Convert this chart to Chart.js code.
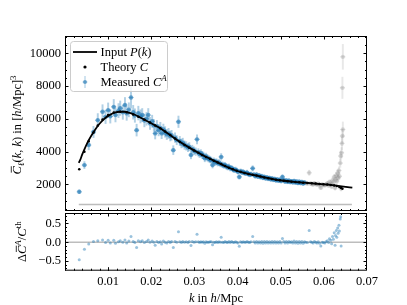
<!DOCTYPE html>
<html>
<head>
<meta charset="utf-8">
<script src="https://cdn.jsdelivr.net/npm/chart.js@4.4.1/dist/chart.umd.min.js"></script>
<style>
html, body { margin: 0; padding: 0; background: #fff; }
#wrap { position: relative; width: 407px; height: 305px; }
#topChart { position: absolute; left: 0; top: 0; }
#botChart { position: absolute; left: 0; top: 212px; }
</style>
</head>
<body>
<div id="wrap">
  <canvas id="topChart" width="407" height="212"></canvas>
  <canvas id="botChart" width="407" height="93"></canvas>
</div>
<script>
// ---- data ----
// input power spectrum P(k) (black line)
const pkK = [0.0032, 0.0035, 0.0040, 0.0046, 0.0055, 0.0069, 0.0080, 0.0092, 0.0104, 0.0115,
  0.0127, 0.0139, 0.0150, 0.0162, 0.0173, 0.0184, 0.0195, 0.0219, 0.0242, 0.0266,
  0.0289, 0.0312, 0.0330, 0.0350, 0.0372, 0.0393, 0.0416, 0.0439, 0.0462, 0.0485,
  0.0508, 0.0531, 0.0555, 0.0580, 0.0620, 0.0666];
const pkVal = [3320, 3480, 3830, 4200, 4700, 5310, 5700, 6020, 6240, 6380,
  6430, 6430, 6360, 6250, 6100, 5950, 5800, 5450, 5040, 4600,
  4230, 3890, 3640, 3390, 3110, 2880, 2700, 2565, 2435, 2310,
  2225, 2160, 2110, 2050, 1960, 1800];

// theory C (black dots)
const thK = [0.0033, 0.0045, 0.0055, 0.0066, 0.0076, 0.0087, 0.0100, 0.0113, 0.0128, 0.0143,
  0.0158, 0.0170, 0.0184, 0.0197, 0.0209, 0.0221, 0.0232, 0.0244, 0.0255, 0.0266,
  0.0277, 0.0288, 0.0299, 0.0309, 0.0318, 0.0327, 0.0336, 0.0345, 0.0354, 0.0362,
  0.0371, 0.0380, 0.0389, 0.0398, 0.0407, 0.0416, 0.0425, 0.0435, 0.0444, 0.0453,
  0.0462, 0.0471, 0.0480, 0.0489, 0.0498, 0.0507, 0.0516, 0.0525, 0.0534, 0.0543,
  0.0552, 0.0562, 0.0572, 0.0581, 0.0590, 0.0599, 0.0608, 0.0616, 0.0624, 0.0630,
  0.0636, 0.0640, 0.0643];
const thC = [2930, 3990, 4640, 5170, 5600, 5960, 6230, 6380, 6430, 6400,
  6270, 6130, 5950, 5780, 5600, 5420, 5220, 5010, 4800, 4600,
  4400, 4240, 4070, 3930, 3800, 3680, 3560, 3440, 3340, 3250,
  3130, 3020, 2920, 2840, 2770, 2700, 2640, 2590, 2540, 2480,
  2430, 2380, 2330, 2290, 2250, 2220, 2200, 2170, 2150, 2130,
  2110, 2090, 2070, 2050, 2030, 2010, 1990, 1970, 1940, 1900,
  1850, 1780, 1730];

// measured C^A (blue, used in the fit)
const measK = [0.0033, 0.0045, 0.0055, 0.0066, 0.0076, 0.0087, 0.0094, 0.0100, 0.0105, 0.0113,
  0.0117, 0.0124, 0.0128, 0.0134, 0.0139, 0.0143, 0.0148, 0.0153, 0.0158, 0.0162,
  0.0166, 0.0170, 0.0175, 0.0179, 0.0184, 0.0189, 0.0193, 0.0197, 0.0202, 0.0206,
  0.0209, 0.0213, 0.0217, 0.0221, 0.0224, 0.0228, 0.0232, 0.0236, 0.0240, 0.0244,
  0.0247, 0.0251, 0.0255, 0.0259, 0.0263, 0.0266, 0.0270, 0.0273, 0.0277, 0.0281,
  0.0285, 0.0288, 0.0292, 0.0295, 0.0299, 0.0303, 0.0306, 0.0309, 0.0312, 0.0315,
  0.0318, 0.0321, 0.0324, 0.0327, 0.0330, 0.0333, 0.0336, 0.0339, 0.0342, 0.0345,
  0.0348, 0.0351, 0.0354, 0.0357, 0.0360, 0.0362, 0.0365, 0.0368, 0.0371, 0.0374,
  0.0377, 0.0380, 0.0383, 0.0386, 0.0389, 0.0392, 0.0395, 0.0398, 0.0401, 0.0404,
  0.0407, 0.0410, 0.0413, 0.0416, 0.0419, 0.0422, 0.0425, 0.0428, 0.0431, 0.0435,
  0.0438, 0.0441, 0.0444, 0.0447, 0.0450, 0.0453, 0.0456, 0.0459, 0.0462, 0.0465,
  0.0468, 0.0471, 0.0474, 0.0477, 0.0480, 0.0483, 0.0486, 0.0489, 0.0492, 0.0495,
  0.0498, 0.0501, 0.0504, 0.0507, 0.0510, 0.0513, 0.0516, 0.0519, 0.0522, 0.0525,
  0.0528, 0.0531, 0.0534, 0.0537, 0.0540, 0.0543, 0.0546, 0.0549, 0.0552, 0.0555];
const measC = [1550, 3180, 4400, 5200, 5920, 6430, 6120, 6530, 6150, 6730,
  6230, 6500, 6650, 6400, 6840, 6330, 6550, 7300, 6400, 6200,
  5310, 6350, 6150, 6230, 5900, 6000, 6230, 5720, 5850, 5600,
  5110, 5550, 5300, 5450, 5110, 5350, 5200, 5050, 5110, 4950,
  5000, 4090, 4850, 4700, 5820, 4650, 4500, 4550, 4400, 4350,
  4250, 4300, 3790, 4150, 4050, 4000, 4750, 3950, 3850, 3900,
  3800, 3760, 3590, 3700, 3620, 3560, 3520, 3480, 3180, 3430,
  3350, 3380, 3300, 3330, 3250, 3680, 3200, 3150, 3180, 3100,
  3050, 3080, 2980, 3000, 2920, 2880, 2900, 2850, 2770, 2460,
  2800, 2740, 2760, 2700, 2680, 2720, 2640, 2600, 2620, 2980,
  2590, 2510, 2600, 2480, 2540, 2450, 2500, 2410, 2460, 2370,
  2420, 2350, 2390, 2310, 2360, 2280, 2330, 2250, 2300, 2230,
  2290, 2210, 2460, 2260, 2180, 2240, 2160, 2230, 2150, 2200,
  2130, 2210, 2120, 2180, 2090, 2170, 2080, 2150, 2060, 2120];
const measErr = [110, 210, 290, 340, 400, 430, 410, 440, 410, 450,
  420, 430, 440, 430, 460, 420, 430, 650, 420, 410,
  360, 420, 400, 400, 390, 390, 400, 370, 370, 360,
  340, 350, 340, 340, 320, 330, 320, 310, 310, 300,
  300, 270, 290, 280, 350, 280, 270, 270, 260, 260,
  250, 250, 230, 240, 240, 230, 280, 230, 220, 220,
  220, 210, 210, 210, 200, 200, 200, 190, 180, 190,
  190, 190, 180, 180, 180, 200, 180, 170, 170, 170,
  170, 170, 160, 160, 160, 160, 160, 150, 150, 140,
  150, 150, 150, 140, 140, 150, 140, 140, 140, 160,
  140, 140, 140, 130, 130, 130, 130, 130, 130, 130,
  130, 130, 120, 120, 120, 120, 120, 120, 120, 120,
  120, 120, 130, 120, 120, 120, 120, 120, 120, 110,
  120, 110, 110, 110, 110, 110, 110, 110, 110, 110];
const measResid = [-0.47, -0.19, -0.05, 0.02, 0.04, 0.06, -0.01, 0.05, -0.02, 0.05,
  -0.03, 0.01, 0.04, 0.0, 0.06, -0.02, 0.03, 0.15, 0.02, -0.01,
  -0.14, 0.04, 0.01, 0.04, -0.01, 0.02, 0.06, 0.0, 0.03, 0.0,
  -0.08, 0.02, -0.01, 0.01, -0.05, 0.03, 0.0, -0.02, 0.02, -0.01,
  0.02, -0.14, 0.02, 0.0, 0.28, 0.01, -0.01, 0.02, 0.0, 0.01,
  -0.01, 0.02, -0.09, 0.02, 0.0, 0.01, 0.21, 0.01, -0.01, 0.01,
  0.0, 0.01, -0.03, 0.01, 0.0, 0.0, 0.01, 0.01, -0.07, 0.0,
  -0.01, 0.01, -0.01, 0.01, 0.0, 0.13, 0.0, -0.01, 0.02, 0.0,
  -0.01, 0.02, -0.01, 0.02, 0.0, -0.01, 0.01, 0.0, -0.02, -0.11,
  0.01, -0.01, 0.01, 0.0, 0.0, 0.02, 0.0, -0.01, 0.01, 0.15,
  0.01, -0.02, 0.02, -0.02, 0.01, -0.02, 0.02, -0.03, 0.02, -0.02,
  0.02, -0.02, 0.01, -0.02, 0.02, -0.02, 0.02, -0.02, 0.01, -0.02,
  0.02, -0.02, 0.1, 0.02, -0.02, 0.02, -0.02, 0.02, -0.01, 0.01,
  -0.02, 0.03, -0.02, 0.02, -0.03, 0.02, -0.02, 0.02, -0.03, 0.01];

// measured C^A beyond the cut (grey)
const maskK = [0.0558, 0.0562, 0.0566, 0.0569, 0.0572, 0.0575, 0.0578, 0.0581, 0.0584, 0.0587,
  0.0590, 0.0593, 0.0596, 0.0599, 0.0602, 0.0605, 0.0608, 0.0611, 0.0613, 0.0616,
  0.0618, 0.0620, 0.0622, 0.0624, 0.0626, 0.0627, 0.0629, 0.0630, 0.0632, 0.0633,
  0.0635, 0.0636, 0.0638, 0.0639, 0.0640, 0.0641, 0.0642, 0.0643, 0.0644, 0.0643, 0.0644];
const maskC = [2080, 2050, 2710, 2060, 2030, 2000, 2070, 2020, 1990, 2040,
  1950, 1790, 2000, 1970, 1940, 2000, 2060, 1930, 2150, 2050,
  1870, 2250, 2100, 2450, 1780, 2300, 2550, 2200, 2700, 2400,
  2850, 2500, 3300, 3730, 1750, 3930, 4500, 4950, 5350, 7890, 9780];
const maskErr = [110, 110, 160, 110, 110, 110, 110, 110, 100, 110,
  100, 100, 110, 100, 100, 110, 120, 110, 130, 120,
  110, 140, 130, 160, 120, 150, 170, 150, 190, 170,
  220, 190, 260, 300, 150, 320, 380, 420, 460, 650, 760];
const maskResid = [0.0, -0.01, 0.31, 0.01, 0.0, -0.02, 0.02, 0.0, -0.02, 0.01,
  -0.03, -0.1, 0.0, -0.01, -0.02, 0.01, 0.04, -0.01, 0.09, 0.05,
  -0.04, 0.15, 0.08, 0.25, -0.08, 0.18, 0.31, 0.13, 0.38, 0.24,
  0.45, 0.3, 0.62, 0.68, -0.1, 0.95, 1.3, 1.6, 1.9, 3.5, 4.6];

// grey reference lines
const floorK = [0.0032, 0.0665];
const floorVal = [780, 780];
const zeroK = [0, 0.07];
const zeroVal = [0, 0];

// ticks
const xMajor = [0.01, 0.02, 0.03, 0.04, 0.05, 0.06, 0.07];
const yTopMajor = [2000, 4000, 6000, 8000, 10000];
const yBotMajor = [-0.5, 0, 0.5];

// labels
const legendLabels = [
  [['Input ', 'n'], ['P', 'i'], ['(', 'n'], ['k', 'i'], [')', 'n']],
  [['Theory ', 'n'], ['C', 'i']],
  [['Measured ', 'n'], ['C', 'i'], ['A', 'supi']]
];
const yTopTitle = [['C', 'io'], ['\u2113', 'subi'], ['(', 'n'], ['k', 'i'], [', ', 'n'], ['k', 'i'],
  [') in [', 'n'], ['h', 'i'], ['/Mpc]', 'n'], ['3', 'sup']];
const yBotTitle = [['\u0394', 'n'], ['C', 'io'], ['A', 'supi'], ['/', 'n'], ['C', 'i'], ['th', 'sup']];
const xTitle = [['k', 'i'], [' in ', 'n'], ['h', 'i'], ['/Mpc', 'n']];

// ---- helpers ----
const FONT = 'Liberation Serif';
const FS = 12.5;
const BLUE = '31,119,180';
const GREY = '128,128,128';

Chart.defaults.font.family = FONT;
Chart.defaults.font.size = FS;
Chart.defaults.color = '#000';

function fontFor(style, size) {
    const small = style.startsWith('sup') || style.startsWith('sub');
    const italic = style === 'i' || style === 'io' || style === 'supi' || style === 'subi';
    return (italic ? 'italic ' : '') + (small ? size * 0.72 : size) + 'px "' + FONT + '"';
}

function drawRich(ctx, parts, x, y, size, align) {
    ctx.save();
    ctx.textBaseline = 'alphabetic';
    ctx.fillStyle = '#000';
    let w = 0;
    for (const [t, st] of parts) {
        ctx.font = fontFor(st, size);
        w += ctx.measureText(t).width;
    }
    let cx = align === 'center' ? x - w / 2 : x;
    for (const [t, st] of parts) {
        ctx.font = fontFor(st, size);
        let dy = 0;
        if (st.startsWith('sup')) dy = -size * 0.4;
        if (st.startsWith('sub')) dy = size * 0.22;
        ctx.fillText(t, cx, y + dy);
        const tw = ctx.measureText(t).width;
        if (st === 'io') {
            ctx.strokeStyle = '#000';
            ctx.lineWidth = 0.8;
            ctx.beginPath();
            ctx.moveTo(cx + 2, y - size * 0.8);
            ctx.lineTo(cx + tw, y - size * 0.8);
            ctx.stroke();
        }
        cx += tw;
    }
    ctx.restore();
}

function pts(xs, ys) {
    return xs.map((x, i) => ({x: x, y: ys[i]}));
}
function bars(xs, ys, es) {
    return xs.map((x, i) => ({x: x, y: [ys[i] - es[i], ys[i] + es[i]]}));
}
function minorTicks(lo, hi, step) {
    const out = [];
    for (let v = lo; v <= hi + step / 2; v += step) out.push(+v.toFixed(6));
    return out;
}
// keep the plot box where it is in the figure: no label overflow padding
function noPad(s) {
    s.paddingTop = 0; s.paddingBottom = 0; s.paddingLeft = 0; s.paddingRight = 0;
}

// frame + inward ticks on all four sides
const frameTicks = {
    id: 'frameTicks',
    afterDraw(chart, args, opts) {
        const {ctx, chartArea: a} = chart;
        const xs = chart.scales.x, ys = chart.scales.y;
        ctx.save();
        ctx.strokeStyle = '#000';
        ctx.lineWidth = 1;
        ctx.beginPath();
        const vtick = (v, len) => {
            const p = Math.round(xs.getPixelForValue(v)) + 0.5;
            if (p < a.left || p > a.right) return;
            ctx.moveTo(p, a.bottom); ctx.lineTo(p, a.bottom - len);
            ctx.moveTo(p, a.top); ctx.lineTo(p, a.top + len);
        };
        const htick = (v, len) => {
            const p = Math.round(ys.getPixelForValue(v)) + 0.5;
            if (p < a.top || p > a.bottom) return;
            ctx.moveTo(a.left, p); ctx.lineTo(a.left + len, p);
            ctx.moveTo(a.right, p); ctx.lineTo(a.right - len, p);
        };
        opts.xMinor.forEach(v => vtick(v, 2));
        opts.xMajor.forEach(v => vtick(v, 3.5));
        opts.yMinor.forEach(v => htick(v, 2));
        opts.yMajor.forEach(v => htick(v, 3.5));
        ctx.stroke();
        ctx.strokeRect(a.left + 0.5, a.top + 0.5, a.right - a.left - 1, a.bottom - a.top - 1);
        ctx.restore();
        if (opts.extra) opts.extra(ctx, chart);
    }
};

function drawLegend(ctx) {
    const x0 = 70.5, y0 = 41.5, w = 97, h = 50, r = 3;
    ctx.save();
    ctx.beginPath();
    ctx.moveTo(x0 + r, y0);
    ctx.lineTo(x0 + w - r, y0);
    ctx.arcTo(x0 + w, y0, x0 + w, y0 + r, r);
    ctx.lineTo(x0 + w, y0 + h - r);
    ctx.arcTo(x0 + w, y0 + h, x0 + w - r, y0 + h, r);
    ctx.lineTo(x0 + r, y0 + h);
    ctx.arcTo(x0, y0 + h, x0, y0 + h - r, r);
    ctx.lineTo(x0, y0 + r);
    ctx.arcTo(x0, y0, x0 + r, y0, r);
    ctx.closePath();
    ctx.fillStyle = 'rgba(255,255,255,0.8)';
    ctx.fill();
    ctx.strokeStyle = '#cccccc';
    ctx.lineWidth = 1;
    ctx.stroke();

    const rows = [52, 67, 82];
    const hx = 85;
    ctx.strokeStyle = '#000';
    ctx.lineWidth = 1.8;
    ctx.beginPath();
    ctx.moveTo(73, rows[0]); ctx.lineTo(97, rows[0]);
    ctx.stroke();
    ctx.fillStyle = '#000';
    ctx.beginPath();
    ctx.arc(hx, rows[1], 1.6, 0, Math.PI * 2);
    ctx.fill();
    ctx.fillStyle = 'rgba(' + BLUE + ',0.35)';
    ctx.fillRect(hx - 0.6, rows[2] - 6, 1.2, 12);
    ctx.fillRect(hx - 2.5, rows[2] - 0.5, 5, 1);
    ctx.fillStyle = 'rgba(' + BLUE + ',0.6)';
    ctx.beginPath();
    ctx.arc(hx, rows[2], 2, 0, Math.PI * 2);
    ctx.fill();
    ctx.restore();
    legendLabels.forEach((parts, i) => drawRich(ctx, parts, 100.5, rows[i] + 4.3, FS, 'left'));
}

// ---- top panel ----
const topCtx = document.getElementById('topChart').getContext('2d');
new Chart(topCtx, {
    type: 'scatter',
    data: {
        datasets: [
            {
                type: 'line', label: 'Input P(k)', data: pts(pkK, pkVal),
                borderColor: '#000', borderWidth: 1.8, pointRadius: 0,
                cubicInterpolationMode: 'monotone', order: 0
            },
            {
                label: 'Theory C', data: pts(thK, thC),
                backgroundColor: '#000', borderWidth: 0, pointRadius: 1.25, order: 1
            },
            {
                type: 'line', label: 'floor', data: pts(floorK, floorVal),
                borderColor: '#bdbdbd', borderWidth: 1.5, pointRadius: 0, order: 9
            },
            {
                type: 'bar', label: 'err', data: bars(measK, measC, measErr),
                backgroundColor: 'rgba(' + BLUE + ',0.35)', borderWidth: 0,
                barThickness: 1.3, grouped: false, order: 6
            },
            {
                label: 'xerr', data: pts(measK, measC), pointStyle: 'line',
                borderColor: 'rgba(' + BLUE + ',0.4)', borderWidth: 1.2, pointRadius: 2.6, order: 5
            },
            {
                label: 'Measured C^A', data: pts(measK, measC),
                backgroundColor: 'rgba(' + BLUE + ',0.62)', borderWidth: 0, pointRadius: 2.2, order: 4
            },
            {
                type: 'bar', label: 'mask err', data: bars(maskK, maskC, maskErr),
                backgroundColor: 'rgba(' + GREY + ',0.18)', borderWidth: 0,
                barThickness: 1.3, grouped: false, order: 8
            },
            {
                label: 'mask', data: pts(maskK, maskC), pointStyle: 'line',
                borderColor: 'rgba(' + GREY + ',0.2)', borderWidth: 1.2, pointRadius: 2.6, order: 7
            },
            {
                label: 'mask pts', data: pts(maskK, maskC),
                backgroundColor: 'rgba(' + GREY + ',0.25)', borderWidth: 0, pointRadius: 2.2, order: 7
            }
        ]
    },
    options: {
        responsive: false,
        animation: false,
        events: [],
        layout: {autoPadding: false, padding: {left: 0, top: 36, right: 40, bottom: 1}},
        plugins: {
            legend: {display: false},
            tooltip: {enabled: false},
            frameTicks: {
                xMajor: xMajor, xMinor: minorTicks(0, 0.07, 0.002),
                yMajor: yTopMajor, yMinor: minorTicks(500, 11000, 500),
                extra: (ctx) => {
                    drawLegend(ctx);
                    ctx.save();
                    ctx.translate(17, 125);
                    ctx.rotate(-Math.PI / 2);
                    drawRich(ctx, yTopTitle, 0, 4.3, FS, 'center');
                    ctx.restore();
                }
            }
        },
        scales: {
            x: {
                type: 'linear', min: 0, max: 0.07, offset: false,
                grid: {display: false, drawTicks: false}, border: {display: false},
                ticks: {display: false},
                afterFit: s => { s.height = 0; noPad(s); }
            },
            y: {
                type: 'linear', min: 380, max: 11050,
                grid: {display: false, drawTicks: false}, border: {display: false},
                afterBuildTicks: s => { s.ticks = yTopMajor.map(v => ({value: v})); },
                ticks: {padding: 4, callback: v => String(v), font: {family: FONT, size: FS}},
                afterFit: s => { s.width = 65; noPad(s); }
            }
        }
    },
    plugins: [frameTicks]
});

// ---- bottom panel (residuals) ----
const botCtx = document.getElementById('botChart').getContext('2d');
new Chart(botCtx, {
    type: 'scatter',
    data: {
        datasets: [
            {
                label: 'resid', data: pts(measK, measResid),
                backgroundColor: 'rgba(' + BLUE + ',0.45)', borderWidth: 0, pointRadius: 1.5, order: 1
            },
            {
                label: 'resid masked', data: pts(maskK, maskResid),
                backgroundColor: 'rgba(' + BLUE + ',0.45)', borderWidth: 0, pointRadius: 1.5, order: 1
            },
            {
                type: 'line', label: 'zero', data: pts(zeroK, zeroVal),
                borderColor: '#bdbdbd', borderWidth: 1.5, pointRadius: 0, order: 2
            }
        ]
    },
    options: {
        responsive: false,
        animation: false,
        events: [],
        layout: {autoPadding: false, padding: {left: 0, top: 1, right: 40, bottom: 0}},
        plugins: {
            legend: {display: false},
            tooltip: {enabled: false},
            frameTicks: {
                xMajor: xMajor, xMinor: minorTicks(0, 0.07, 0.002),
                yMajor: yBotMajor, yMinor: minorTicks(-0.7, 0.7, 0.1),
                extra: (ctx) => {
                    ctx.save();
                    ctx.translate(22, 29.7);
                    ctx.rotate(-Math.PI / 2);
                    drawRich(ctx, yBotTitle, 0, 4.3, FS, 'center');
                    ctx.restore();
                    drawRich(ctx, xTitle, 216, 89.5, FS, 'center');
                }
            }
        },
        scales: {
            x: {
                type: 'linear', min: 0, max: 0.07, offset: false,
                grid: {display: false, drawTicks: false}, border: {display: false},
                afterBuildTicks: s => { s.ticks = xMajor.map(v => ({value: v})); },
                ticks: {padding: 4, maxRotation: 0, callback: v => v.toFixed(2), font: {family: FONT, size: FS}},
                afterFit: s => { s.height = 34.3; noPad(s); }
            },
            y: {
                type: 'linear', min: -0.76, max: 0.78,
                grid: {display: false, drawTicks: false}, border: {display: false},
                afterBuildTicks: s => { s.ticks = yBotMajor.map(v => ({value: v})); },
                ticks: {padding: 4, callback: v => (v < 0 ? '\u2212' : '') + Math.abs(v).toFixed(1), font: {family: FONT, size: FS}},
                afterFit: s => { s.width = 65; noPad(s); }
            }
        }
    },
    plugins: [frameTicks]
});
</script>
</body>
</html>
